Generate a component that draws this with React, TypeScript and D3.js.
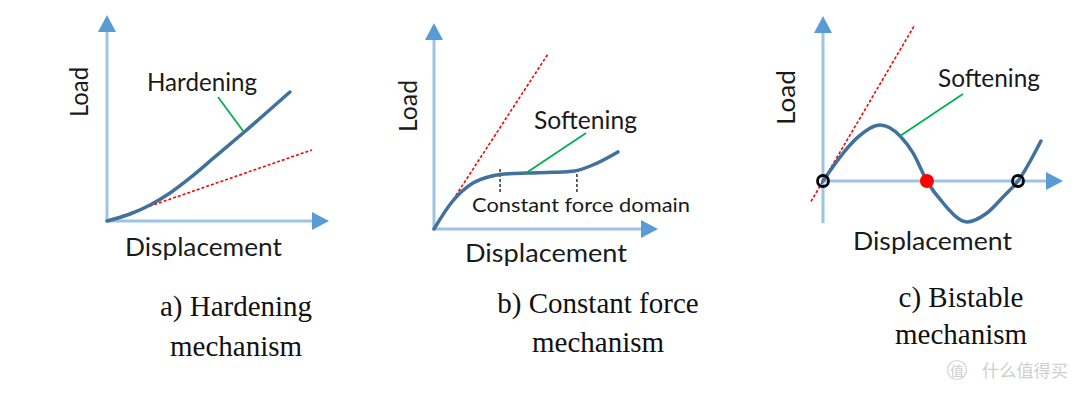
import React from "react";
import * as d3 from "d3";

// ---------- data (abstract units, 0..10 along each axis) ----------
// Panel a: hardening
const hardX = [0, 1.04, 1.94, 2.84, 3.74, 4.86, 6.13, 8.24];
const hardY = [0, 0.34, 0.78, 1.36, 2.09, 3.11, 4.27, 6.26];
const hardTangentX = [0, 9.23];
const hardTangentY = [0, 3.45];
const hardPointerX = [5.0, 6.13];
const hardPointerY = [6.02, 4.37];

// Panel b: constant force
const constX = [0, 0.8, 1.74, 2.5, 2.95, 4.15, 5.3, 6.29, 7.28, 8.21];
const constY = [0, 1.31, 2.23, 2.55, 2.65, 2.72, 2.75, 2.82, 3.2, 3.74];
const constTangentX = [0, 5.09];
const constTangentY = [0, 8.5];
const constDomainX = [2.95, 6.38];
const constDomainY = [1.8, 3.0];
const constPointerX = [4.11, 6.79];
const constPointerY = [2.72, 4.66];

// Panel c: bistable
const biX = [0, 0.71, 1.42, 2.375, 3.21, 3.75, 4.33, 5.0, 6.0, 6.83, 7.5, 8.125, 9.08];
const biY = [0, 1.45, 2.61, 3.39, 2.73, 1.7, 0, -1.33, -2.48, -1.94, -0.97, 0, 2.42];
const biTangentX = [-0.5, 3.8];
const biTangentY = [-1.24, 9.4];
const biStableX = [0, 8.125];
const biUnstableX = [4.33];
const biPointerX = [3.21, 5.83];
const biPointerY = [2.73, 5.27];

const captions = [
  ["a) Hardening", "mechanism"],
  ["b) Constant force", "mechanism"],
  ["c) Bistable", "mechanism"],
];
const axisLabels = ["Load", "Displacement"];
const curveLabels = ["Hardening", "Softening", "Softening"];
const domainLabel = "Constant force domain";
const watermark = "什么值得买";

// ---------- styles ----------
const AXIS = "#9dc3e6";
const ARROW = "#5b9bd5";
const CURVE = "#41719c";
const RED = "#ff0000";
const GREEN = "#00b050";
const TEXT = "#1a1a1a";
const SANS = "Lato, 'Open Sans', sans-serif";
const SERIF = "'Liberation Serif', 'Times New Roman', serif";

const zip = (xs: number[], ys: number[]) => xs.map((x, i) => [x, ys[i]] as [number, number]);

type Panel = {
  x: d3.ScaleLinear<number, number>;
  y: d3.ScaleLinear<number, number>;
  yMin: number;
};

function Axes({ p }: { p: Panel }) {
  const ox = p.x(0), oy = p.y(0);
  const tipX = p.x(10), tipY = p.y(10);
  const L = 17, W = 9;
  return (
    <g>
      <line x1={ox} y1={p.y(p.yMin)} x2={ox} y2={tipY + L - 1} stroke={AXIS} strokeWidth={3} />
      <line x1={ox} y1={oy} x2={tipX - L + 1} y2={oy} stroke={AXIS} strokeWidth={3} />
      <path d={`M${ox},${tipY} L${ox - W},${tipY + L} L${ox + W},${tipY + L} Z`} fill={ARROW} />
      <path d={`M${tipX},${oy} L${tipX - L},${oy - W} L${tipX - L},${oy + W} Z`} fill={ARROW} />
    </g>
  );
}

function curvePath(p: Panel, xs: number[], ys: number[]) {
  return d3
    .line<[number, number]>()
    .x((d) => p.x(d[0]))
    .y((d) => p.y(d[1]))
    .curve(d3.curveMonotoneX)(zip(xs, ys)) as string;
}
function straight(p: Panel, xs: number[], ys: number[]) {
  return d3
    .line<[number, number]>()
    .x((d) => p.x(d[0]))
    .y((d) => p.y(d[1]))(zip(xs, ys)) as string;
}

export default function App() {
  const pa: Panel = {
    x: d3.scaleLinear().domain([0, 10]).range([107, 329]),
    y: d3.scaleLinear().domain([0, 10]).range([221, 15]),
    yMin: 0,
  };
  const pb: Panel = {
    x: d3.scaleLinear().domain([0, 10]).range([434, 658]),
    y: d3.scaleLinear().domain([0, 10]).range([229, 23]),
    yMin: 0,
  };
  const pc: Panel = {
    x: d3.scaleLinear().domain([0, 10]).range([823, 1063]),
    y: d3.scaleLinear().domain([0, 10]).range([181, 16]),
    yMin: -2.55,
  };

  const labelStyle = { fontFamily: SANS, fontSize: 25, fill: TEXT } as React.CSSProperties;

  return (
    <svg
      width={1080}
      height={395}
      style={{ position: "absolute", left: 0, top: 0, background: "#fff" }}
    >
      <rect width={1080} height={395} fill="#fff" />

      {/* ---------- Panel a ---------- */}
      <Axes p={pa} />
      <path d={straight(pa, hardTangentX, hardTangentY)} stroke={RED} strokeWidth={1.6} strokeDasharray="3,2" fill="none" />
      <path d={curvePath(pa, hardX, hardY)} stroke={CURVE} strokeWidth={3.5} fill="none" strokeLinecap="round" />
      <path d={straight(pa, hardPointerX, hardPointerY)} stroke={GREEN} strokeWidth={1.8} fill="none" />
      <text x={202} y={91} textAnchor="middle" style={labelStyle} textLength={110} lengthAdjust="spacingAndGlyphs">{curveLabels[0]}</text>
      <text transform="translate(88,92) rotate(-90)" textAnchor="middle" style={labelStyle} textLength={50} lengthAdjust="spacingAndGlyphs">{axisLabels[0]}</text>
      <text x={203.5} y={256} textAnchor="middle" style={labelStyle} textLength={157} lengthAdjust="spacingAndGlyphs">{axisLabels[1]}</text>

      {/* ---------- Panel b ---------- */}
      <Axes p={pb} />
      <path d={straight(pb, constTangentX, constTangentY)} stroke={RED} strokeWidth={1.6} strokeDasharray="3,2" fill="none" />
      {constDomainX.map((dx, i) => (
        <line key={i} x1={pb.x(dx)} x2={pb.x(dx)} y1={pb.y(constDomainY[0])} y2={pb.y(constDomainY[1])} stroke="#333" strokeWidth={1.5} strokeDasharray="3,2" />
      ))}
      <path d={curvePath(pb, constX, constY)} stroke={CURVE} strokeWidth={3.5} fill="none" strokeLinecap="round" />
      <path d={straight(pb, constPointerX, constPointerY)} stroke={GREEN} strokeWidth={1.8} fill="none" />
      <text x={585.5} y={129} textAnchor="middle" style={labelStyle} textLength={103} lengthAdjust="spacingAndGlyphs">{curveLabels[1]}</text>
      <text x={581} y={212} textAnchor="middle" style={{ ...labelStyle, fontSize: 19 }} textLength={218} lengthAdjust="spacingAndGlyphs">{domainLabel}</text>
      <text transform="translate(417,106) rotate(-90)" textAnchor="middle" style={labelStyle} textLength={52} lengthAdjust="spacingAndGlyphs">{axisLabels[0]}</text>
      <text x={546} y={262} textAnchor="middle" style={labelStyle} textLength={162} lengthAdjust="spacingAndGlyphs">{axisLabels[1]}</text>

      {/* ---------- Panel c ---------- */}
      <Axes p={pc} />
      <path d={straight(pc, biTangentX, biTangentY)} stroke={RED} strokeWidth={1.6} strokeDasharray="3,2" fill="none" />
      <path d={curvePath(pc, biX, biY)} stroke={CURVE} strokeWidth={3.5} fill="none" strokeLinecap="round" />
      <path d={straight(pc, biPointerX, biPointerY)} stroke={GREEN} strokeWidth={1.8} fill="none" />
      {biStableX.map((sx, i) => (
        <circle key={i} cx={pc.x(sx)} cy={pc.y(0)} r={5.5} fill="none" stroke="#000" strokeWidth={2.8} />
      ))}
      {biUnstableX.map((ux, i) => (
        <circle key={i} cx={pc.x(ux)} cy={pc.y(0)} r={7} fill={RED} />
      ))}
      <text x={989} y={87} textAnchor="middle" style={labelStyle} textLength={102} lengthAdjust="spacingAndGlyphs">{curveLabels[2]}</text>
      <text transform="translate(795,97.5) rotate(-90)" textAnchor="middle" style={labelStyle} textLength={55} lengthAdjust="spacingAndGlyphs">{axisLabels[0]}</text>
      <text x={932.5} y={250} textAnchor="middle" style={labelStyle} textLength={159} lengthAdjust="spacingAndGlyphs">{axisLabels[1]}</text>

      {/* ---------- captions ---------- */}
      {[
        { cx: 236, y1: 316, y2: 356 },
        { cx: 598, y1: 313, y2: 352 },
        { cx: 961, y1: 307, y2: 344 },
      ].map((c, i) => (
        <g key={i} style={{ fontFamily: SERIF, fontSize: 29, fill: "#111" }}>
          <text x={c.cx} y={c.y1} textAnchor="middle">{captions[i][0]}</text>
          <text x={c.cx} y={c.y2} textAnchor="middle">{captions[i][1]}</text>
        </g>
      ))}

      {/* ---------- watermark ---------- */}
      <g style={{ fill: "#cfcfcf" }}>
        <circle cx={957} cy={370} r={9.5} fill="none" stroke="#d4d4d4" strokeWidth={1.2} />
        <text x={957} y={376} textAnchor="middle" style={{ fontFamily: "'Noto Sans CJK SC'", fontSize: 14, fill: "#cfcfcf" }}>值</text>
        <text x={982} y={377} style={{ fontFamily: "'Noto Sans CJK SC'", fontSize: 17.5, fill: "#cfcfcf" }} textLength={86} lengthAdjust="spacingAndGlyphs">{watermark}</text>
      </g>
    </svg>
  );
}
